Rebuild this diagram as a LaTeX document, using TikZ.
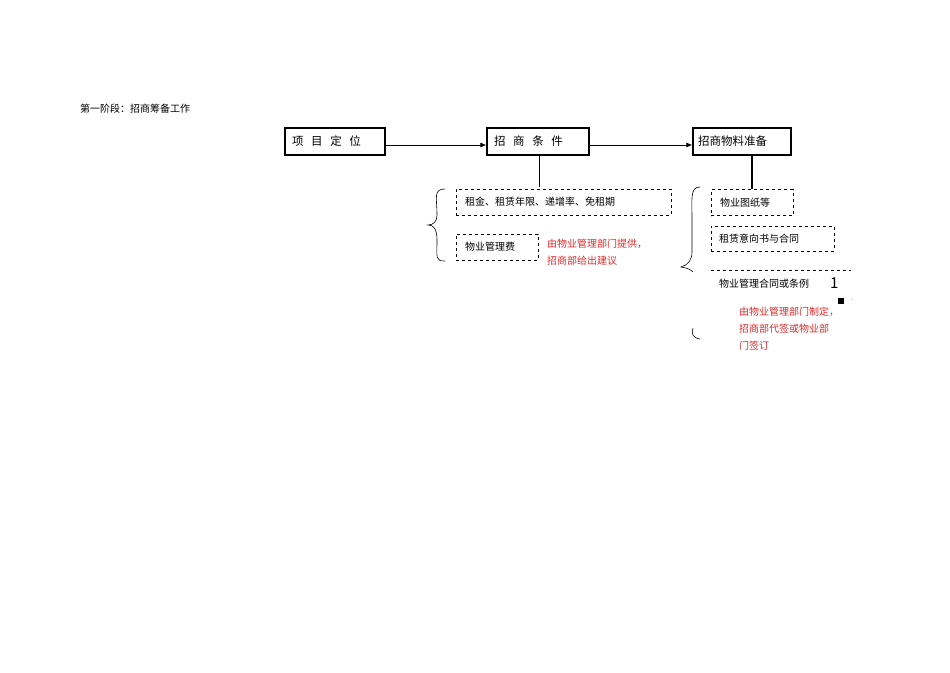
\documentclass[tikz,border=0pt]{standalone}
\usepackage{fontspec}
\setmainfont{Noto Sans CJK SC}
\usetikzlibrary{arrows.meta}
\definecolor{rd}{RGB}{225,40,40}
\begin{document}
\begin{tikzpicture}[x=1pt,y=-1pt,
 main/.style={draw,line width=1.2pt,minimum height=27pt,inner ysep=0pt,inner xsep=7pt,align=left,font=\fontsize{11.5}{13}\selectfont},
 dbox/.style={draw,dashed,line width=0.6pt,minimum height=26pt,inner ysep=0pt,inner xsep=9pt,align=left,font=\fontsize{10}{12}\selectfont},
 note/.style={text=rd,font=\fontsize{10}{17}\selectfont,align=left,anchor=north west,inner sep=0pt},
 arr/.style={-{Latex[length=6pt,width=5pt]},line width=0.8pt}]
\useasboundingbox (0,0) rectangle (950,672);
\node[anchor=west,inner sep=0pt,font=\fontsize{10}{12}\selectfont] (title) at (80,109) {第一阶段：招商筹备工作};
\node[main,text width=86pt] (a) at (335,141.5) {项\ \ 目\ \ 定\ \ 位};
\node[main,text width=88pt] (b) at (538,141.5) {招\ \ 商\ \ 条\ \ 件};
\node[main,text width=88pt,inner xsep=5pt] (c) at (742,141.5) {招商物料准备};
\draw[arr] (a.east|-0,145) -- (b.west|-0,145);
\draw[arr] (b.east|-0,145) -- (c.west|-0,145);
\coordinate (bd) at (539,187);
\coordinate (cd) at (752,189);
\draw[line width=0.6pt] (539,155) -- (bd);
\draw[line width=1.2pt] (752,155) -- (cd);
\node[dbox,text width=197pt] (r1) at (563.5,202) {租金、租赁年限、递增率、免租期};
\node[dbox,text width=64pt] (r2) at (497,247) {物业管理费};
\node[note] (n1) at (547,239) {由物业管理部门提供，\\招商部给出建议};
\node[dbox,text width=64pt] (s1) at (752,202.5) {物业图纸等};
\node[dbox,text width=107pt,minimum height=25pt,inner xsep=8pt] (s2) at (772.5,238.5) {租赁意向书与合同};
\coordinate (dl1) at (711,270); \coordinate (dl2) at (851,270);
\draw[dashed,line width=0.6pt] (dl1) -- (dl2);
\node[anchor=west,inner sep=0pt,font=\fontsize{10}{12}\selectfont] (s3) at (719,284) {物业管理合同或条例};
\node[anchor=west,inner sep=0pt,font=\fontsize{15}{15}\selectfont] (one) at (830,283) {1};
\node[fill,minimum size=6pt,inner sep=0pt] (sq) at (841,301) {};
\node[inner sep=0pt,font=\fontsize{6}{6}\selectfont] (dot) at (852,300) {.};
\node[note] (n2) at (739,307) {由物业管理部门制定，\\招商部代签或物业部\\门签订};
\draw[line width=0.6pt] (445,189) .. controls (433,189) and (437,198) .. (437,215) .. controls (437,222) and (433,225) .. (428,225) .. controls (433,225) and (437,228) .. (437,240) .. controls (437,258) and (435,261) .. (445,261);
\draw[line width=0.6pt] (700,187) .. controls (690,187) and (692,198) .. (692,220) -- (692,252) .. controls (692,260) and (688,265) .. (681,267) .. controls (688,268) and (691,270) .. (693,272);
\draw[line width=0.6pt] (693,328) .. controls (691,334) and (693,338) .. (700,339);
\end{tikzpicture}
\end{document}
